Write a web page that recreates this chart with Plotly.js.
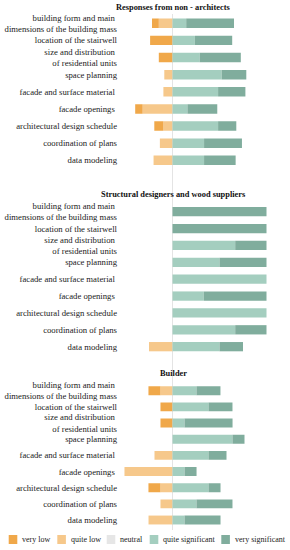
<!DOCTYPE html>
<html><head><meta charset="utf-8">
<script src="https://cdn.plot.ly/plotly-3.0.1.min.js"></script>
<style>html,body{margin:0;padding:0;background:#fff}#chart{width:290px;height:550px}</style>
</head><body><div id="chart"></div>
<script>
// Categories (top to bottom)
const questions = [
  "building form and main\u00a0<br>dimensions of the building mass",
  "location of the stairwell",
  "size and distribution\u00a0<br>of residential units",
  "space planning",
  "facade and surface material\u00a0",
  "facade openings\u00a0",
  "architectural design schedule",
  "coordination of plans",
  "data modeling"
];
const groups = ["Responses from non - architects", "Structural designers and wood suppliers", "Builder"];
const levels = ["very low", "quite low", "neutral", "quite significant", "very significant"];
const colors = ["#f0a84a", "#f6c88b", "#e6e6e6", "#a4cebf", "#80ad9d"];

// Shares of responses (%) per group
const nonArchVeryLow   = [8.3, 27.3, 16.7, 0, 0, 9.1, 11.1, 0, 0];
const nonArchQuiteLow  = [16.7, 0, 0, 10, 11.1, 36.4, 11.1, 15.4, 23.1];
const nonArchNeutral   = [0, 0, 0, 0, 0, 0, 0, 0, 0];
const nonArchQuiteSig  = [16.7, 27.3, 33.3, 60, 55.6, 18.2, 55.6, 38.5, 38.5];
const nonArchVerySig   = [58.3, 45.5, 50, 30, 33.3, 36.4, 22.2, 46.2, 38.5];

const structVeryLow    = [0, 0, 0, 0, 0, 0, 0, 0, 0];
const structQuiteLow   = [0, 0, 0, 0, 0, 0, 0, 0, 25];
const structNeutral    = [0, 0, 0, 0, 0, 0, 0, 0, 0];
const structQuiteSig   = [0, 0, 66.7, 50, 100, 33.3, 100, 66.7, 50];
const structVerySig    = [100, 100, 33.3, 50, 0, 66.7, 0, 33.3, 25];

const builderVeryLow   = [16.7, 16.7, 16.7, 0, 0, 0, 16.7, 0, 0];
const builderQuiteLow  = [16.7, 0, 0, 0, 25, 66.7, 16.7, 16.7, 33.3];
const builderNeutral   = [0, 0, 0, 0, 0, 0, 0, 0, 0];
const builderQuiteSig  = [33.3, 50, 16.7, 83.3, 50, 16.7, 50, 33.3, 16.7];
const builderVerySig   = [33.3, 33.3, 66.7, 16.7, 25, 16.7, 16.7, 50, 50];

const W = 290, H = 550;
const plotL = 120, plotR = 280, zeroPx = 172.5;
const FONT = "'Liberation Serif', 'Times New Roman', serif";
// px per percent for each panel
const scales = [0.82, 0.94, 0.72];
const panelPx = [[14.7, 168.9], [203.3, 355.1], [382.6, 528.1]];
const titleY = [8, 194, 373.3];

const panels = [
  [nonArchVeryLow, nonArchQuiteLow, nonArchNeutral, nonArchQuiteSig, nonArchVerySig],
  [structVeryLow, structQuiteLow, structNeutral, structQuiteSig, structVerySig],
  [builderVeryLow, builderQuiteLow, builderNeutral, builderQuiteSig, builderVerySig]
];

const traces = [];
const layout = {
  width: W, height: H,
  margin: {l: 0, r: 0, t: 0, b: 0},
  paper_bgcolor: "#fff", plot_bgcolor: "rgba(0,0,0,0)",
  barmode: "relative", bargap: 0.45,
  showlegend: false,
  font: {family: FONT, size: 8, color: "#222"},
  annotations: [], shapes: []
};

panels.forEach((p, i) => {
  const xa = i === 0 ? "x" : "x" + (i + 1);
  const ya = i === 0 ? "y" : "y" + (i + 1);
  // order: quite low then very low (negative side), quite sig then very sig (positive)
  const order = [1, 0, 3, 4];
  order.forEach(k => {
    const neg = k < 2;
    traces.push({
      type: "bar", orientation: "h",
      y: questions, x: p[k].map(v => neg ? -v : v),
      xaxis: xa, yaxis: ya,
      name: levels[k],
      marker: {color: colors[k], line: {width: 0}},
      hoverinfo: "skip"
    });
  });
  const s = scales[i];
  const xKey = i === 0 ? "xaxis" : "xaxis" + (i + 1);
  const yKey = i === 0 ? "yaxis" : "yaxis" + (i + 1);
  layout[xKey] = {
    domain: [plotL / W, plotR / W],
    range: [-(zeroPx - plotL) / s, (plotR - zeroPx) / s],
    anchor: ya, showticklabels: false, showgrid: false,
    zeroline: false, showline: false, fixedrange: true
  };
  layout[yKey] = {
    domain: [1 - panelPx[i][1] / H, 1 - panelPx[i][0] / H],
    anchor: xa, autorange: "reversed", type: "category",
    showgrid: false, zeroline: false, showline: false,
    ticks: "", ticklabelstandoff: 2,
    tickfont: {family: FONT, size: 8.7, color: "#222"}
  };
  layout.annotations.push({
    xref: "paper", yref: "paper", x: 173 / W, y: 1 - titleY[i] / H,
    text: "<b>" + groups[i] + "</b>", showarrow: false,
    xanchor: "center", yanchor: "middle",
    font: {family: FONT, size: 8.4, color: "#111"}
  });
});

// zero line
layout.shapes.push({
  type: "line", xref: "x", yref: "paper", x0: 0, x1: 0,
  y0: 1 - 530 / H, y1: 1 - 14 / H, layer: "below",
  line: {color: "#e4e4e4", width: 1}
});

// custom legend
const legSwatchX = [8.7, 57.3, 106.7, 149.7, 221.3];
const legY = 539.5;
levels.forEach((lv, k) => {
  layout.shapes.push({
    type: "rect", xref: "paper", yref: "paper",
    x0: legSwatchX[k] / W, x1: (legSwatchX[k] + 8.6) / W,
    y0: 1 - (legY + 4.5) / H, y1: 1 - (legY - 4.5) / H,
    fillcolor: colors[k], line: {width: 0}
  });
  layout.annotations.push({
    xref: "paper", yref: "paper", x: (legSwatchX[k] + 11.5) / W, y: 1 - legY / H,
    text: lv, showarrow: false, xanchor: "left", yanchor: "middle",
    font: {family: FONT, size: 8, color: "#222"}
  });
});

Plotly.newPlot("chart", traces, layout, {staticPlot: true, displayModeBar: false});
</script></body></html>
